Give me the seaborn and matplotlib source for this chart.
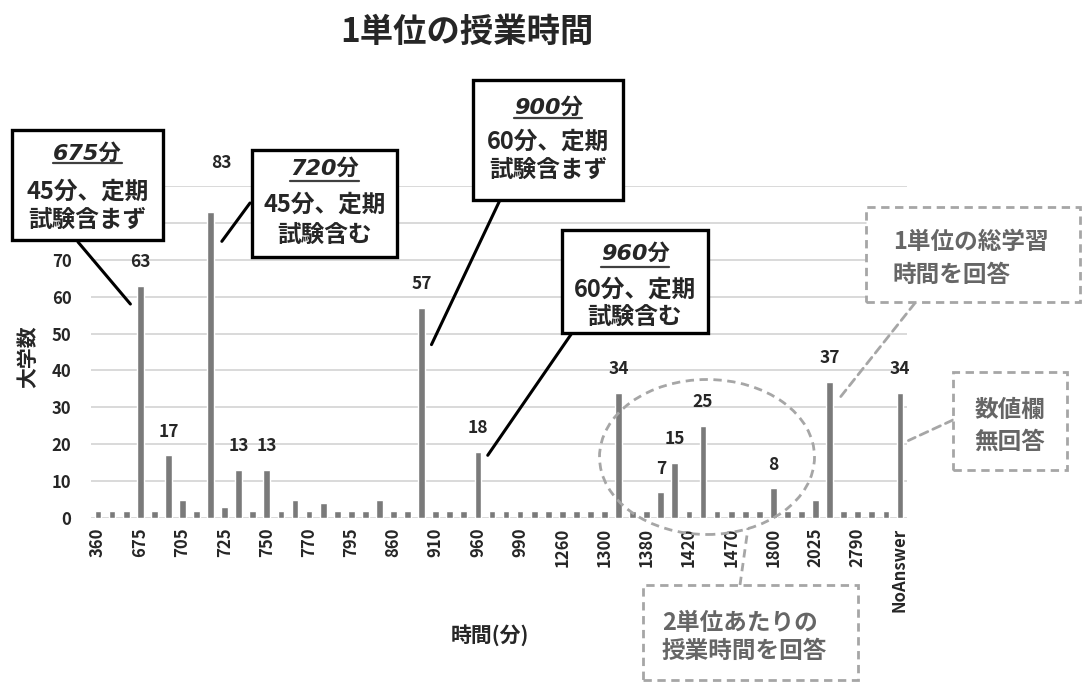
import numpy as np
import pandas as pd
import seaborn as sns
import matplotlib.pyplot as plt
from matplotlib.patches import Rectangle, Ellipse
from matplotlib.lines import Line2D

# 時間(分) categories and number of universities
categories = ["360", "450", "600", "675", "690", "700", "705", "715", "720", "725",
              "730", "740", "750", "760", "765", "770", "780", "790", "795", "800",
              "840", "860", "880", "900", "910", "930", "945", "960", "970", "980",
              "990", "1000", "1200", "1260", "1270", "1290", "1300", "1350", "1360", "1380",
              "1400", "1410", "1420", "1440", "1450", "1470", "1500", "1620", "1800", "1890",
              "1920", "2025", "2700", "2760", "2790", "2800", "3600", "NoAnswer"]
counts = [2, 2, 2, 63, 2, 17, 5, 2, 83, 3,
          13, 2, 13, 2, 5, 2, 4, 2, 2, 2,
          5, 2, 2, 57, 2, 2, 2, 18, 2, 2,
          2, 2, 2, 2, 2, 2, 2, 34, 2, 2,
          7, 15, 2, 25, 2, 2, 2, 2, 8, 2,
          2, 5, 37, 2, 2, 2, 2, 34]
labelled = [3, 5, 8, 10, 12, 23, 27, 37, 40, 41, 43, 48, 52, 57]
ytick_labels = ["0", "10", "20", "30", "40", "50", "60", "70", "", ""]

df = pd.DataFrame({"time": categories, "n": counts})

sns.set_style("white")
plt.rcParams['font.family'] = ['Noto Sans CJK JP', 'DejaVu Sans']

W, H = 1083, 693
fig = plt.figure(figsize=(W / 100, H / 100), dpi=100)


def fx(x):
    return x / W


def fy(y):
    return 1 - y / H


ax = fig.add_axes([fx(91), fy(518), (907 - 91) / W, (518 - 186) / H])
sns.barplot(data=df, x="time", y="n", order=categories, color="#7a7a7a",
            width=0.48, saturation=1, ax=ax, zorder=3)
ax.set_ylim(0, 90)
ax.set_yticks(range(0, 91, 10))
ax.set_yticklabels(ytick_labels)
ax.set_xticks(range(0, len(categories), 3))
ax.set_xticklabels(categories[::3], rotation=90)
ax.grid(axis="y", color="#d9d9d9", lw=1.4, zorder=0)
for s in ax.spines.values():
    s.set_visible(False)
ax.tick_params(axis="y", length=0, pad=14, labelsize=12)
ax.tick_params(axis="x", length=0, pad=7, labelsize=12)
for t in ax.get_xticklabels() + ax.get_yticklabels():
    t.set_fontweight("bold")
ax.set_xlabel("")
ax.set_ylabel("")

for i in labelled:
    off = (8, 35) if counts[i] == 83 else (0, 17)
    ax.annotate(str(counts[i]), (i, counts[i]), xytext=off, textcoords="offset points",
                ha="center", va="center", fontsize=12.5, fontweight="bold")

fig.text(fx(467), fy(32), "1単位の授業時間", ha="center", va="center",
         fontsize=24, fontweight="bold")
fig.text(fx(28), fy(357), "大学数", ha="center", va="center", rotation=90,
         fontsize=15, fontweight="bold")
fig.text(fx(490), fy(635), "時間(分)", ha="center", va="center",
         fontsize=15, fontweight="bold")

# leader lines: box corner (pixels) -> point near bar (data coords)
leaders = [((78, 242), (2.3, 58)), ((250, 203), (8.8, 75)),
           ((500, 200), (23.7, 47)), ((572, 333), (27.7, 17))]
for (px, py), (dx, dy) in leaders:
    ax.annotate("", xy=(dx, dy), xytext=(fx(px), fy(py)), textcoords="figure fraction",
                arrowprops=dict(arrowstyle="-", color="black", lw=2.2,
                                shrinkA=0, shrinkB=0), annotation_clip=False)

gray_leaders = [((915, 303), (52.6, 32)), ((953, 420), (57.6, 21))]
for (px, py), (dx, dy) in gray_leaders:
    ax.annotate("", xy=(dx, dy), xytext=(fx(px), fy(py)), textcoords="figure fraction",
                arrowprops=dict(arrowstyle="-", color="#a6a6a6", lw=2.0, ls=(0, (3, 2)),
                                shrinkA=0, shrinkB=0), annotation_clip=False)
fig.add_artist(Line2D([fx(740), fx(748)], [fy(585), fy(528)], color="#a6a6a6", lw=2.0,
                      ls=(0, (3, 2)), transform=fig.transFigure))
fig.add_artist(Ellipse((fx(707), fy(457)), 215 / W, 155 / H, transform=fig.transFigure,
                       fill=False, ec="#a6a6a6", lw=2.0, ls=(0, (3, 2)), zorder=5))

# black callouts
callouts = [
    ((12, 130, 163, 240), "675分", "45分、定期", "試験含まず", (153, 163, 192, 220)),
    ((252, 150, 397, 257), "720分", "45分、定期", "試験含む", (168, 181, 205, 235)),
    ((473, 80, 623, 200), "900分", "60分、定期", "試験含まず", (107, 118, 142, 170)),
    ((562, 230, 708, 333), "960分", "60分、定期", "試験含む", (253, 267, 290, 317)),
]
heads = []
for (x0, y0, x1, y1), head, l2, l3, (ya, yu, yb, yc) in callouts:
    fig.add_artist(Rectangle((fx(x0), fy(y1)), (x1 - x0) / W, (y1 - y0) / H,
                             transform=fig.transFigure, fc="white", ec="black", lw=2.4, zorder=4))
    xc = fx((x0 + x1) / 2)
    t = fig.text(xc, fy(ya), head, ha="center", va="center", fontsize=16,
                 fontweight="bold", style="italic", family=["DejaVu Sans", "Noto Sans CJK JP"],
                 zorder=6)
    heads.append((t, yu))
    fig.text(xc, fy(yb), l2, ha="center", va="center", fontsize=17, fontweight="bold", zorder=6)
    fig.text(xc, fy(yc), l3, ha="center", va="center", fontsize=17, fontweight="bold", zorder=6)

fig.canvas.draw()
for t, yu in heads:
    bb = t.get_window_extent().transformed(fig.transFigure.inverted())
    fig.add_artist(Line2D([bb.x0, bb.x1], [fy(yu), fy(yu)], color="#404040", lw=1.6,
                          transform=fig.transFigure, zorder=6))

# gray dashed callouts
gray_boxes = [
    ((866, 207, 1080, 302), ["1単位の総学習", "時間を回答"], (242, 275), 893, "left"),
    ((643, 585, 858, 680), ["2単位あたりの", "授業時間を回答"], (623, 651), 662, "left"),
    ((953, 372, 1067, 470), ["数値欄", "無回答"], (410, 442), 1010, "center"),
]
for (x0, y0, x1, y1), lines, ys, xt, ha in gray_boxes:
    fig.add_artist(Rectangle((fx(x0), fy(y1)), (x1 - x0) / W, (y1 - y0) / H,
                             transform=fig.transFigure, fc="white", ec="#a6a6a6", lw=2.0,
                             ls=(0, (3, 2)), zorder=4))
    for line, yl in zip(lines, ys):
        fig.text(fx(xt), fy(yl), line, ha=ha, va="center", fontsize=17, fontweight="bold",
                 color="#666666", zorder=6)

fig.savefig("out.png", dpi=100)
